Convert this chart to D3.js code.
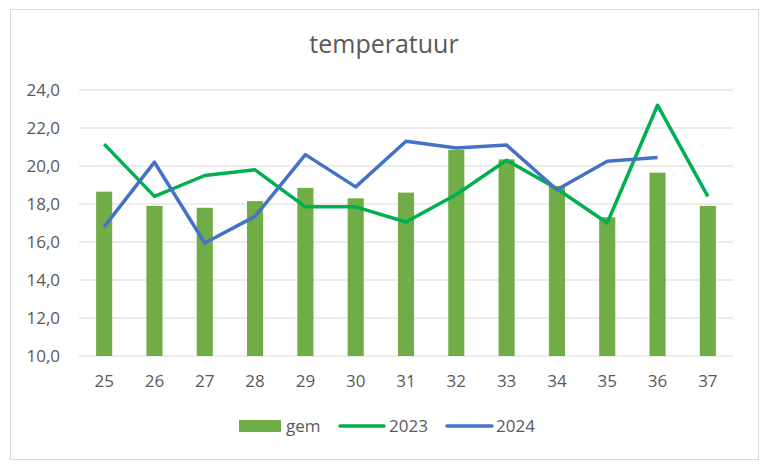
<!DOCTYPE html>
<html><head><meta charset="utf-8">
<script src="https://cdn.jsdelivr.net/npm/d3@7"></script>
<style>body{margin:0;background:#fff;font-family:Calibri,Carlito,"Open Sans",sans-serif;}</style>
</head><body>
<svg id="c" width="768" height="469"></svg>
<script>
const categories = ["25","26","27","28","29","30","31","32","33","34","35","36","37"];
const gem = [18.65,17.9,17.8,18.15,18.85,18.3,18.6,20.85,20.35,18.95,17.3,19.65,17.9];
const y2023 = [21.15,18.4,19.5,19.8,17.85,17.85,17.05,18.5,20.3,18.8,17.0,23.2,18.4];
const y2024 = [16.8,20.2,15.95,17.35,20.6,18.9,21.3,20.95,21.1,18.75,20.25,20.45,null];
const yTicks = [10,12,14,16,18,20,22,24];
const seriesNames = ["gem","2023","2024"];

const svg = d3.select("#c");
const font = "'Open Sans', sans-serif";
svg.append("rect").attr("x",10.5).attr("y",9.5).attr("width",748).attr("height",450)
  .attr("fill","#fff").attr("stroke","#d9d9d9");

const x = d3.scaleBand().domain(categories).range([79,733]).paddingInner(0.68).paddingOuter(0.34);
const y = d3.scaleLinear().domain([10,24]).range([356,90]);

svg.append("text").attr("x",384).attr("y",53).attr("text-anchor","middle")
  .attr("font-family",font).attr("font-size",25).attr("fill","#595959").text("temperatuur");

const g = svg.append("g");
g.selectAll("line.grid").data(yTicks).join("line").attr("class","grid")
  .attr("x1",79).attr("x2",733).attr("y1",d=>y(d)).attr("y2",d=>y(d))
  .attr("stroke","#d9d9d9").attr("stroke-width",1);

const yAxis = d3.axisLeft(y).tickValues(yTicks).tickSize(0).tickPadding(0)
  .tickFormat(d=>d3.format(".1f")(d).replace(".",","));
svg.append("g").attr("transform","translate(60,0)").call(yAxis)
  .call(s=>s.select(".domain").remove())
  .selectAll("text").attr("font-family",font).attr("font-size",17).attr("fill","#595959");

const xAxis = d3.axisBottom(x).tickSize(0).tickPadding(0);
svg.append("g").attr("transform","translate(0,375)").call(xAxis)
  .call(s=>s.select(".domain").remove())
  .selectAll("text").attr("font-family",font).attr("font-size",17).attr("fill","#595959");

g.selectAll("rect.bar").data(gem).join("rect").attr("class","bar")
  .attr("x",(d,i)=>x(categories[i])).attr("width",x.bandwidth())
  .attr("y",d=>y(d)).attr("height",d=>y(10)-y(d)).attr("fill","#70ad47");

const line = d3.line().defined(d=>d!=null)
  .x((d,i)=>x(categories[i])+x.bandwidth()/2).y(d=>y(d));
g.append("path").datum(y2023).attr("d",line).attr("fill","none")
  .attr("stroke","#00b050").attr("stroke-width",3.5).attr("stroke-linejoin","round");
g.append("path").datum(y2024).attr("d",line).attr("fill","none")
  .attr("stroke","#4472c4").attr("stroke-width",3.5).attr("stroke-linejoin","round");

// legend
const lg = svg.append("g");
lg.append("rect").attr("x",239).attr("y",420).attr("width",42).attr("height",12).attr("fill","#70ad47");
lg.append("text").attr("x",286).attr("y",432).text(seriesNames[0]);
lg.append("line").attr("x1",340).attr("x2",384).attr("y1",426).attr("y2",426)
  .attr("stroke","#00b050").attr("stroke-width",3.5).attr("stroke-linecap","round");
lg.append("text").attr("x",389).attr("y",432).text(seriesNames[1]);
lg.append("line").attr("x1",447).attr("x2",492).attr("y1",426).attr("y2",426)
  .attr("stroke","#4472c4").attr("stroke-width",3.5).attr("stroke-linecap","round");
lg.append("text").attr("x",496).attr("y",432).text(seriesNames[2]);
lg.selectAll("text").attr("font-family",font).attr("font-size",17).attr("fill","#595959");
</script>
</body></html>
